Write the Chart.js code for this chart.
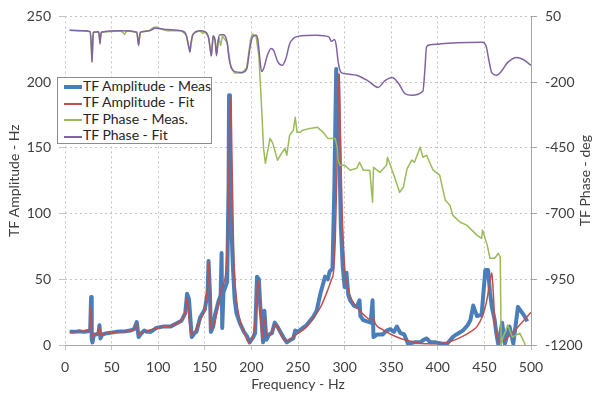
<!DOCTYPE html>
<html>
<head>
<meta charset="utf-8">
<script src="https://cdn.jsdelivr.net/npm/chart.js@4"></script>
<style>
  html, body { margin: 0; padding: 0; background: #fff; }
  #wrap { position: relative; width: 594px; height: 393px; }
  #legend {
    position: absolute; left: 57px; top: 77px; width: 153px; height: 65px;
    border: 1px solid #8c8c8c; background: #fff;
    font: 14px Lato, sans-serif; color: #262626;
  }
  .legend-item { height: 16.4px; line-height: 16.4px; white-space: nowrap; }
  .legend-line { display: inline-block; width: 18px; vertical-align: middle; margin: 0 1px 0 6px; }
</style>
</head>
<body>
<div id="wrap">
  <canvas id="c" width="594" height="393"></canvas>
  <div id="legend"></div>
</div>
<script>
// TF amplitude - measured
const ampMeasFreq = [5,10,15,20,25,27,28,28.7,29.5,31,34,36,37,38,40,45,55,65,70,74,77,79,82,85,88,92,98,105,113,120,125,129,131,133,136,139,141,145,150,153,154,155.5,156.5,159,161,165,167,168,168.7,170,172,174,175.5,176,177,178,180,182,184,188,192,195,198,202,204,206,208,209.5,211,212.5,214,216,219,222,225,228,231,235,238,242,245,247,250,255,259,266,270,274,279,282,284,287,289,291,292,293,294,296,298,300,302,304,306,310,313,316,317,320,324,328,330,331,335,341,345,349,353,356,360,364,368,375,381,385,388,392,398,405,410,416,420,427,432,435,438,442,447,451,454,456,458,461,463,465,469,472,477,481,486,490,493,496];
const ampMeasVal  = [10,10,10.5,10,10.5,11.5,36.5,4,2,8,8,9,15,5,8,9,10,10.5,11,12,17.5,6,9,11,10,10,13,14,14,16.5,18.5,24,39,35,6,9,10,21,27,40,64,40,10,14,23,34,38,70,13,40,44,48,120,190,150,100,62,35,24,16,10,7,2,6,9,52,50,30,18,2,26,4,8,9,17,14,10,5,2,4,5,11,10,13,15,21,26,39,52,50,56,58,120,210,150,205,160,90,60,44,55,38,34,30,29,34,22,19,18,17,34,6,8,8,11,12,10,14,9,8,1,2,2,4,5,2,2,1,1,6,8,11,15,19,30,22,23,57,57,40,29,19,8,0,17,1,14,1,29,25,22,18];

// TF amplitude - fit
const ampFitFreq = [5,27,28,28.8,30,36,37,38.5,40,60,75,77,79,85,100,115,125,129,131,132.5,135,140,145,150,153,154.5,155.5,157,160,164,167,170,173,175,177,178,179,181,184,188,192,196,199,203,205.5,207,208.5,210,211.5,213,214.5,216,219,223,226,229,233,238,243,250,258,266,275,282,286,288,290,292,294,295,297,300,303,308,315,322,328,331,333,340,350,360,370,385,400,415,425,435,442,448,452,456,458,459.5,461,463,466,470,475,480,485,490,495,500];
const ampFitVal  = [10,12,30,5,8,9,14,7,8,10,12,16,8,10,13,15,19,26,36,25,8,11,19,28,45,64,30,12,16,28,40,46,60,100,175,188,150,70,35,18,10,3,2,12,30,50,40,20,5,15,20,8,7,12,16,12,6,3,5,9,13,20,30,42,50,55,80,140,207,180,110,60,45,34,27,22,19,20,16,12,8,5,3,1,1,3,6,10,14,22,32,48,55,40,20,8,2,3,6,9,13,17,21,25];

// TF phase - measured
const phMeasFreq = [5,20,27,29,30.5,36,37.5,39,60,64,66,77,79,81,90,95,98,105,110,125,130,134,137,140,145,148,150,154,157,159,161,163,165,167,169,174,178,182,190,195,199,201,205,208,211,213,215,220,223,228,233,236,238,241,245,247,249,252,255,263,271,277,282,290,292,293,295,300,306,313,316,320,327,330,331,338,345,346,351,354,359,363,367,372,375,381,384,388,395,402,408,413,416,424,431,442,447,448,453,456,461,465,467,468,470,475,480,488,494];
const phMeasVal  = [-3,-5,-8,-120,-10,-8,-50,-10,-5,-18,-5,-10,-55,-10,-5,8,10,0,-5,-5,-20,-85,-20,-10,-5,-15,-8,-30,-100,-25,-40,-90,-30,-60,-25,-50,-145,-165,-165,-145,-40,-18,-25,-100,-300,-450,-509,-414,-433,-497,-467,-452,-478,-402,-383,-334,-391,-391,-383,-376,-372,-391,-414,-414,-448,-497,-516,-516,-535,-528,-505,-535,-535,-657,-524,-543,-516,-486,-535,-566,-619,-600,-530,-497,-505,-448,-486,-478,-535,-554,-649,-668,-706,-733,-744,-782,-794,-763,-820,-870,-870,-851,-866,-1200,-1170,-1124,-1170,-1155,-1200];

// TF phase - fit
const phFitFreq = [5,20,27,28.3,29,29.8,30.5,36,37,37.5,38.2,39,60,77,78.5,79,80,81,90,97,110,125,130,133,134,135,137,145,150,154,156,157,158,159,161,162.5,164,166,170,174,176,178,182,190,195,198,201,205,207,209,211,213,217,221,224,228,233,237,241,245,250,270,283,286,289,291,293,295,297,305,313,325,336,343,351,358,365,372,384,386,388,392,402,420,448,452,455,458,463,468,475,485,492,500];
const phFitVal  = [-3,-5,-8,-60,-125,-40,-10,-8,-30,-55,-25,-10,-5,-10,-50,-60,-25,-10,-5,5,0,-5,-20,-70,-85,-55,-20,-5,-8,-30,-80,-100,-60,-25,-40,-100,-50,-20,-20,-50,-110,-140,-160,-163,-150,-80,-30,-22,-40,-110,-160,-150,-100,-72,-80,-120,-136,-110,-55,-34,-26,-22,-28,-45,-38,-60,-120,-155,-165,-170,-174,-195,-220,-195,-182,-205,-245,-250,-235,-160,-65,-58,-55,-50,-48,-65,-120,-165,-174,-160,-125,-106,-115,-136];

const series = [
  { label: 'TF Amplitude - Meas', freq: ampMeasFreq, val: ampMeasVal, color: '#4a7ebb', width: 4, axis: 'y', order: 3, smooth: false },
  { label: 'TF Amplitude - Fit',  freq: ampFitFreq,  val: ampFitVal,  color: '#c0504d', width: 1.5, axis: 'y', order: 2, smooth: true },
  { label: 'TF Phase - Meas.',    freq: phMeasFreq,  val: phMeasVal,  color: '#9bbb59', width: 1.5, axis: 'y2', order: 1, smooth: false },
  { label: 'TF Phase - Fit',      freq: phFitFreq,   val: phFitVal,   color: '#8064a2', width: 1.5, axis: 'y2', order: 0, smooth: true },
];

const FONT = 'Lato, sans-serif';
const TXT = '#404040';
const GRID = '#c4c4c4';

const datasets = series.map(s => ({
  label: s.label,
  data: s.freq.map((f, i) => ({ x: f, y: s.val[i] })),
  borderColor: s.color,
  backgroundColor: s.color,
  borderWidth: s.width,
  pointRadius: 0,
  yAxisID: s.axis,
  order: s.order,
  cubicInterpolationMode: s.smooth ? 'monotone' : 'default',
  tension: 0,
  borderJoinStyle: 'round',
}));

// right axis title reads bottom-to-top, like the left one
const rightTitle = {
  id: 'rightTitle',
  afterDraw(chart) {
    const { ctx, chartArea } = chart;
    ctx.save();
    ctx.translate(585, (chartArea.top + chartArea.bottom) / 2);
    ctx.rotate(-Math.PI / 2);
    ctx.font = '14px ' + FONT;
    ctx.fillStyle = TXT;
    ctx.textAlign = 'center';
    ctx.textBaseline = 'middle';
    ctx.fillText('TF Phase - deg', 0, 0);
    ctx.restore();
  }
};

new Chart(document.getElementById('c'), {
  type: 'line',
  data: { datasets },
  plugins: [rightTitle],
  options: {
    responsive: false,
    animation: false,
    layout: { padding: { top: 16, left: 0, right: 0, bottom: 0 } },
    plugins: { legend: { display: false }, tooltip: { enabled: false } },
    scales: {
      x: {
        type: 'linear', min: 0, max: 500,
        ticks: { stepSize: 50, color: TXT, font: { family: FONT, size: 14 }, padding: 9, maxRotation: 0 },
        grid: { color: GRID, tickLength: 5, tickColor: GRID },
        border: { color: '#a6a6a6', dash: [2, 3] },
        title: { display: true, text: 'Frequency - Hz', color: TXT, font: { family: FONT, size: 14 }, padding: { top: 0, bottom: 0 } },
        afterFit: s => { s.height = 48; },
      },
      y: {
        position: 'left', min: 0, max: 250,
        ticks: { stepSize: 50, color: TXT, font: { family: FONT, size: 14 }, padding: 8 },
        grid: { color: GRID, tickLength: 6, tickColor: GRID },
        border: { display: false, dash: [2, 3] },
        title: { display: true, text: 'TF Amplitude - Hz', color: TXT, font: { family: FONT, size: 14 }, padding: { top: 6, bottom: 0 } },
        afterFit: s => { s.width = 65; },
      },
      y2: {
        position: 'right', min: -1200, max: 50,
        ticks: { stepSize: 250, color: TXT, font: { family: FONT, size: 14 }, padding: 8, callback: v => String(v) },
        grid: { drawOnChartArea: false, tickLength: 6, color: '#a6a6a6' },
        border: { color: '#a6a6a6' },
        afterFit: s => { s.width = 63; },
      },
    },
  },
});

document.getElementById('legend').innerHTML = series.map(s =>
  `<div class="legend-item"><span class="legend-line" style="height:${s.width > 2 ? 4 : 2}px;background:${s.color}"></span>${s.label}</div>`
).join('');
</script>
</body>
</html>
